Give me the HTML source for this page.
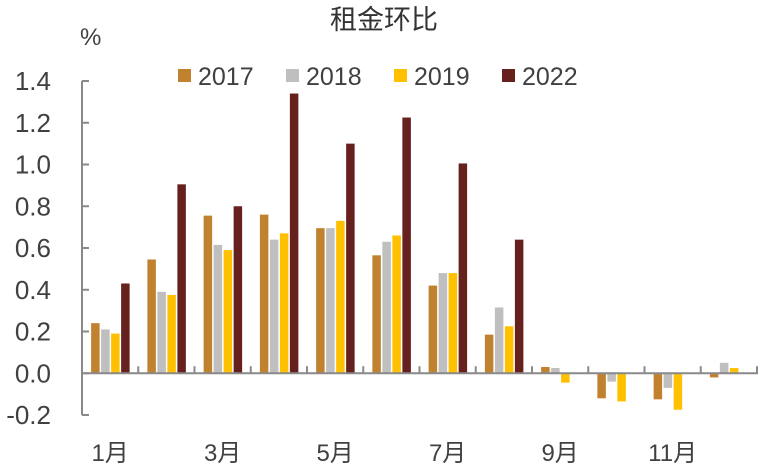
<!DOCTYPE html>
<html><head><meta charset="utf-8"><style>
body{margin:0;background:#fff;}
svg{display:block;font-family:"Liberation Sans","Noto Sans CJK SC",sans-serif;}
</style></head><body>
<svg id="c" width="768" height="472">
<text x="384" y="29" text-anchor="middle" font-size="27" fill="#333">租金环比</text>
<text x="80" y="45" font-size="24" fill="#404040">%</text>
</svg>
<script>
const categories=["1月","2月","3月","4月","5月","6月","7月","8月","9月","10月","11月","12月"];
const seriesNames=["2017","2018","2019","2022"];
const colors=["#C0822F","#BFBFBF","#FFC000","#66211F"];
const s2017=[0.24,0.545,0.755,0.76,0.695,0.565,0.42,0.185,0.03,-0.12,-0.125,-0.02];
const s2018=[0.21,0.39,0.615,0.64,0.695,0.63,0.48,0.315,0.025,-0.04,-0.07,0.05];
const s2019=[0.19,0.375,0.59,0.67,0.73,0.66,0.48,0.225,-0.045,-0.135,-0.175,0.025];
const s2022=[0.43,0.905,0.80,1.34,1.10,1.225,1.005,0.64,null,null,null,null];
const yTicks=[-0.2,0,0.2,0.4,0.6,0.8,1.0,1.2,1.4];
const xLabelIdx=[0,2,4,6,8,10];
const NS="http://www.w3.org/2000/svg";
const svg=document.getElementById('c');
const x0=82,x1=757,yTop=81,yBot=415,vMin=-0.2,vMax=1.4;
const band=(x1-x0)/categories.length;
const y=v=>yBot-(v-vMin)/(vMax-vMin)*(yBot-yTop);
const xb=i=>x0+i*band;
function mk(t,a){const e=document.createElementNS(NS,t);for(const k in a)e.setAttribute(k,a[k]);svg.appendChild(e);return e;}
let ax=mk('line',{x1:x0,y1:yTop,x2:x0,y2:yBot,stroke:'#898989','stroke-width':2});


yTicks.forEach(v=>{
 const t=mk('line',{x1:x0,y1:y(v),x2:x0+7,y2:y(v),stroke:'#898989','stroke-width':2});
 
 
 const l=mk('text',{x:51,y:y(v)+9,'text-anchor':'end','font-size':26,fill:'#404040'});
 l.textContent=v.toFixed(1);
 
 
});
const all=[s2017,s2018,s2019,s2022];
const bw=8.5,gap=10,off=(band-4*gap)/2+1;
all.forEach((s,si)=>{s.forEach((v,i)=>{
 if(v===null)return;
 const bx=xb(i)+off+si*gap;
 const r=mk('rect',{x:bx,y:Math.min(y(v),y(0)),width:bw,height:Math.abs(y(v)-y(0)),fill:colors[si]});
 
 
});});
let xa=mk('line',{x1:x0,y1:y(0),x2:x1+1,y2:y(0),stroke:'#898989','stroke-width':2});


for(let i=0;i<=categories.length;i++){
 const t=mk('line',{x1:xb(i),y1:y(0),x2:xb(i),y2:y(0)-7,stroke:'#898989','stroke-width':2});
 
 
}
xLabelIdx.forEach(i=>{
 const l=mk('text',{x:xb(i)+band/2,y:461,'text-anchor':'middle','font-size':24,fill:'#404040'});
 l.textContent=categories[i];
 
 
});
const lx=[178,286,394,502];
seriesNames.forEach((n,i)=>{
 const r=mk('rect',{x:lx[i],y:69,width:13,height:13,fill:colors[i]});
 
 
 const t=mk('text',{x:lx[i]+20,y:85,'font-size':25,fill:'#404040'});
 t.textContent=n;
 
 
});
</script>
</body></html>
